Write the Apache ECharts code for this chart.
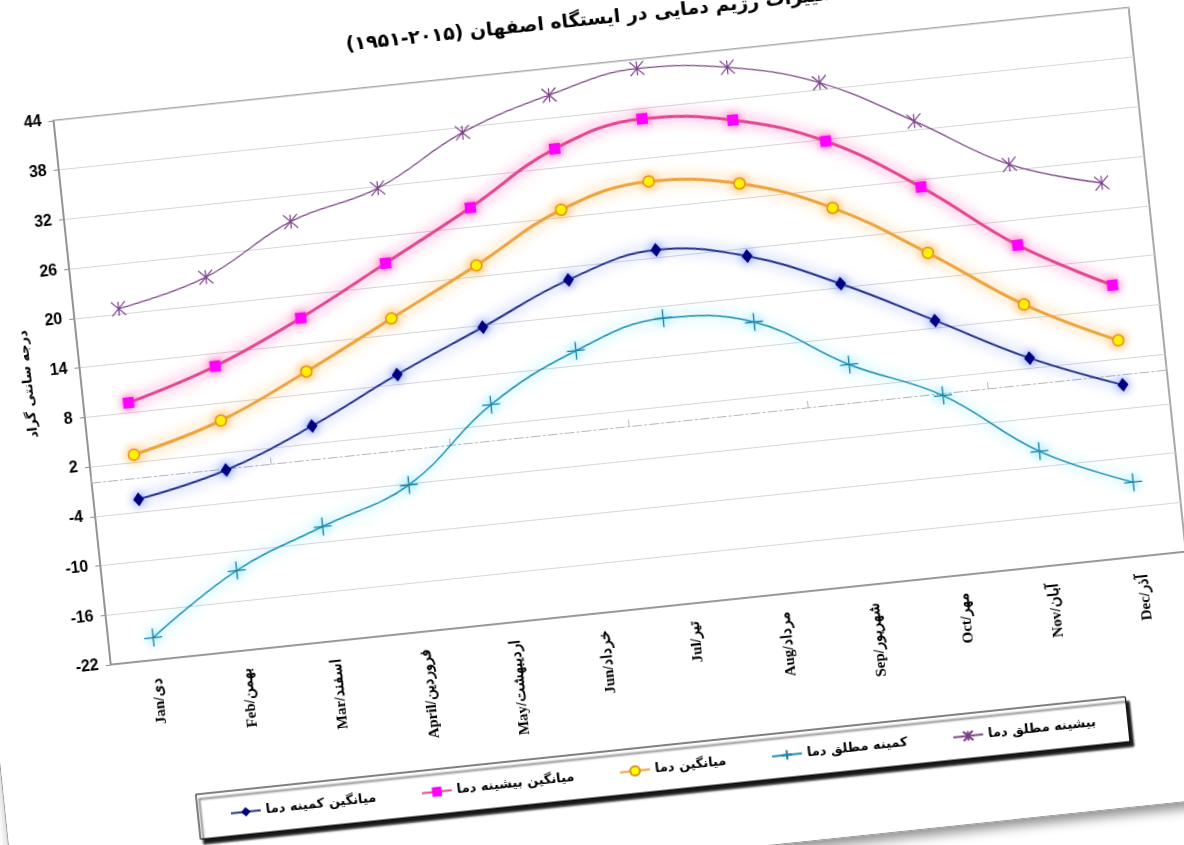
<!DOCTYPE html>
<html>
<head>
<meta charset="utf-8">
<script src="https://cdn.jsdelivr.net/npm/echarts@6/dist/echarts.min.js"></script>
<style>
    html, body { margin: 0; padding: 0; width: 1184px; height: 845px; overflow: hidden; background: #fff; }
    #frame {
        position: absolute; left: -33px; top: -80px; width: 1273px; height: 940px;
        background: #fff; border: 1px solid #9a9a9a;
        box-shadow: 3px 6px 12px rgba(0, 0, 0, 0.45);
        transform-origin: 625px 502px; transform: rotate(-6deg);
    }
    #main { width: 100%; height: 100%; }
</style>
</head>
<body>
<div id="frame"><div id="main"></div></div>
<script>
    var months = ['Jan/دی', 'Feb/بهمن', 'Mar/اسفند', 'April/فروردین', 'May/اردیبهشت', 'Jun/خرداد',
                  'Jul/تیر', 'Aug/مرداد', 'Sep/شهریور', 'Oct/مهر', 'Nov/آبان', 'Dec/آذر'];
    var yTicks = [-22, -16, -10, -4, 2, 8, 14, 20, 26, 32, 38, 44];

    var meanMin = [-2.5, -0.1, 4.1, 9.2, 13.8, 18.4, 20.9, 19.0, 14.5, 8.9, 3.2, -1.2];
    var meanMax = [9.2, 12.5, 17.2, 22.7, 28.3, 34.3, 36.8, 35.5, 31.8, 25.1, 16.9, 10.9];
    var meanTemp = [2.9, 5.9, 10.7, 16.0, 21.3, 26.9, 29.2, 27.8, 23.7, 17.1, 9.7, 4.2];
    var absMin = [-19.3, -12.3, -8.1, -4.2, 4.4, 9.8, 12.6, 11.0, 4.7, -0.2, -8.1, -13.0];
    var absMax = [20.6, 23.3, 28.9, 31.8, 37.4, 40.8, 42.9, 41.9, 38.9, 33.1, 26.7, 23.3];

    var names = ['میانگین کمینه دما', 'میانگین بیشینه دما', 'میانگین دما', 'کمینه مطلق دما', 'بیشینه مطلق دما'];
    // RLE ... PDF keeps the whole title right-to-left, LRI ... PDI keeps the years in order
    var titleText = '\u202Bتغییرات رژیم دمایی در ایستگاه اصفهان (\u2066۱۹۵۱-۲۰۱۵\u2069)\u202C';

    var starPath = 'path://M5,0L5,10M0,0L10,10M0,10L10,0';
    var plusPath = 'path://M6,0L6,12M0,6L12,6';

    var myChart = echarts.init(document.getElementById('main'));

    var option = {
        backgroundColor: '#fff',
        graphic: [
            {
                type: 'text',
                x: 665,
                y: 101,
                style: {
                    text: titleText,
                    textAlign: 'center',
                    verticalAlign: 'middle',
                    textVerticalAlign: 'middle',
                    font: 'bold 19px "DejaVu Sans"',
                    fill: '#000'
                }
            }
        ],
        legend: {
            left: 191,
            top: 830,
            padding: [16, 32],
            itemGap: 45,
            itemWidth: 30,
            itemHeight: 12,
            borderColor: '#000',
            borderWidth: 1,
            backgroundColor: '#fff',
            shadowColor: 'rgba(0,0,0,0.9)',
            shadowBlur: 2,
            shadowOffsetX: 3,
            shadowOffsetY: 5,
            textStyle: { fontSize: 13, fontWeight: 'bold', color: '#000', fontFamily: 'DejaVu Sans' },
            data: names
        },
        grid: {
            left: 120, top: 145, width: 1081, height: 547,
            show: true, borderColor: '#8c8c8c', borderWidth: 1.5
        },
        xAxis: [
            {
                type: 'category',
                data: months,
                axisLine: { onZero: false, lineStyle: { color: '#8c8c8c', width: 1.5 } },
                axisTick: { show: false },
                axisLabel: {
                    rotate: 90, margin: 18, color: '#000', fontSize: 15, fontWeight: 'bold',
                    fontFamily: 'Liberation Serif'
                }
            },
            {
                type: 'category',
                data: months,
                position: 'bottom',
                axisLine: { onZero: true, onZeroAxisIndex: 0, lineStyle: { color: '#b5b5b5', type: [9, 3, 2, 3] } },
                axisTick: { show: true, inside: true, length: 7, lineStyle: { color: '#b5b5b5' } },
                axisLabel: { show: false },
                splitLine: { show: false }
            }
        ],
        yAxis: {
            type: 'value',
            min: -22,
            max: 44,
            name: 'درجه سانتی گراد',
            nameLocation: 'middle',
            nameGap: 42,
            nameTextStyle: {
                fontSize: 13, fontWeight: 'bold', color: '#000', fontFamily: 'DejaVu Sans',
                padding: [0, 0, 0, 28]
            },
            axisLine: { show: true, lineStyle: { color: '#8c8c8c', width: 1.5 } },
            axisTick: { show: true, length: 5, customValues: yTicks, lineStyle: { color: '#8c8c8c' } },
            axisLabel: {
                customValues: yTicks, margin: 12, color: '#000', fontSize: 16, fontWeight: 'bold',
                fontFamily: 'Liberation Sans'
            },
            splitLine: { show: true, lineStyle: { color: '#d6d6d6', width: 1 } }
        },
        series: [
            {
                name: names[0], type: 'line', smooth: 0.4, data: meanMin,
                symbol: 'diamond', symbolSize: [11, 14],
                lineStyle: { color: '#26338c', width: 2, shadowBlur: 14, shadowColor: 'rgba(70,110,255,0.95)' },
                itemStyle: { color: '#000080', shadowBlur: 10, shadowColor: 'rgba(70,110,255,0.95)' }
            },
            {
                name: names[1], type: 'line', smooth: 0.4, data: meanMax,
                symbol: 'rect', symbolSize: 11,
                lineStyle: { color: '#e2478f', width: 3, shadowBlur: 14, shadowColor: 'rgba(255,60,170,0.95)' },
                itemStyle: { color: '#ff00ff', shadowBlur: 10, shadowColor: 'rgba(255,60,170,0.95)' }
            },
            {
                name: names[2], type: 'line', smooth: 0.4, data: meanTemp,
                symbol: 'circle', symbolSize: 11,
                lineStyle: { color: '#eea23e', width: 3, shadowBlur: 14, shadowColor: 'rgba(255,170,50,0.95)' },
                itemStyle: { color: '#ffff00', borderColor: '#e0901a', borderWidth: 1.5, shadowBlur: 10, shadowColor: 'rgba(255,170,50,0.95)' }
            },
            {
                name: names[3], type: 'line', smooth: 0.4, data: absMin,
                symbol: plusPath, symbolSize: 18,
                lineStyle: { color: '#1f8fb0', width: 1.5, shadowBlur: 14, shadowColor: 'rgba(40,210,250,1)' },
                itemStyle: { color: '#1f7f9f', borderColor: '#1f7f9f', borderWidth: 1.3, shadowBlur: 8, shadowColor: 'rgba(40,210,250,0.95)' }
            },
            {
                name: names[4], type: 'line', smooth: 0.4, data: absMax,
                symbol: starPath, symbolSize: 14,
                lineStyle: { color: '#7d4a86', width: 1.3 },
                itemStyle: { color: '#7a3d8a', borderColor: '#7a3d8a', borderWidth: 1.2 }
            }
        ]
    };

    myChart.setOption(option);
</script>
</body>
</html>
